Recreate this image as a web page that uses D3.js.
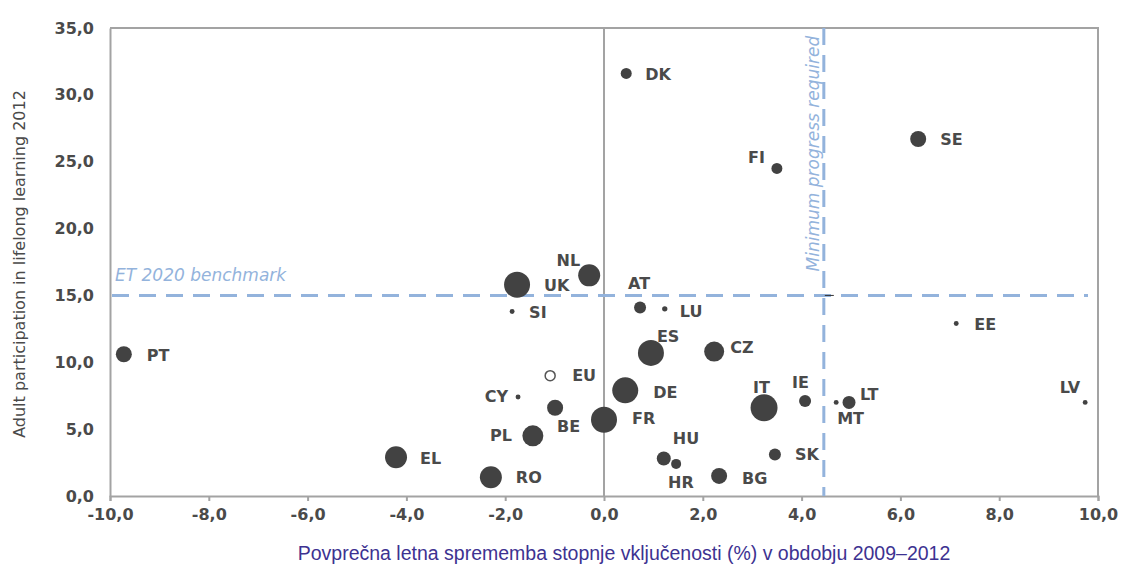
<!DOCTYPE html>
<html>
<head>
<meta charset="utf-8">
<script src="https://cdn.jsdelivr.net/npm/d3@7"></script>
<style>
  body { margin: 0; background: #fff; }
  svg { display: block; }
</style>
</head>
<body>
<div id="chart"></div>
<script>
// countries and values
const countries = ['DK', 'SE', 'FI', 'NL', 'UK', 'AT', 'LU', 'SI', 'ES', 'CZ', 'PT', 'EU', 'DE', 'CY', 'BE',
                   'FR', 'PL', 'EL', 'RO', 'HU', 'HR', 'BG', 'IT', 'IE', 'MT', 'LT', 'SK', 'EE', 'LV'];
const change = [0.45, 6.36, 3.5, -0.3, -1.76, 0.73, 1.23, -1.86, 0.95, 2.23, -9.72, -1.09, 0.43, -1.74, -0.99,
                0.0, -1.44, -4.21, -2.29, 1.21, 1.46, 2.33, 3.24, 4.07, 4.7, 4.96, 3.46, 7.13, 9.74];
const participation = [31.6, 26.7, 24.5, 16.5, 15.8, 14.1, 14.0, 13.8, 10.7, 10.8, 10.6, 9.0, 7.9, 7.4, 6.6,
                       5.7, 4.5, 2.9, 1.4, 2.8, 2.4, 1.5, 6.6, 7.1, 7.0, 7.0, 3.1, 12.9, 7.0];
// bubble weight (relative size of each circle)
const weight = [30, 64, 30, 121, 169, 36, 7, 6, 169, 100, 64, 25, 169, 6, 64,
                169, 110, 121, 121, 49, 25, 64, 182, 36, 6, 42, 36, 6, 6];

const xTicks = [-10, -8, -6, -4, -2, 0, 2, 4, 6, 8, 10];
const yTicks = [0, 5, 10, 15, 20, 25, 30, 35];
const benchmark = 15;
const minProgress = 4.45;

// label placement around each bubble: [dx, dy, anchor]
const labelPos = {
  DK: [19, 1, 'start'], SE: [22, 0, 'start'], FI: [-12, -11, 'end'], NL: [-9, -15, 'end'],
  UK: [27, 1, 'start'], AT: [-12, -24, 'start'], LU: [15, 3, 'start'], SI: [17, 1, 'start'],
  ES: [6, -17, 'start'], CZ: [16, -4, 'start'], PT: [23, 1, 'start'], EU: [22, 0, 'start'],
  DE: [28, 2, 'start'], CY: [-10, -1, 'end'], BE: [2, 19, 'start'], FR: [28, -1, 'start'],
  PL: [-21, 0, 'end'], EL: [24, 1, 'start'], RO: [25, 0, 'start'], HU: [9, -20, 'start'],
  HR: [-8, 18, 'start'], BG: [23, 2, 'start'], IT: [-11, -20, 'start'], IE: [-13, -19, 'start'],
  MT: [1, 16, 'start'], LT: [11, -8, 'start'], SK: [20, 0, 'start'], EE: [18, 1, 'start'],
  LV: [-5, -15, 'end']
};

const points = countries.map((c, i) => ({
  name: c, x: change[i], y: participation[i], w: weight[i]
}));

const width = 1122, height = 570;
const plotLeft = 110, plotRight = 1098, plotTop = 28, plotBottom = 496;

const svg = d3.select('#chart')
              .append('svg')
              .attr('width', width)
              .attr('height', height);

const locale = d3.formatLocale({decimal: ',', thousands: '.', grouping: [3], currency: ['', ''], minus: '-'});
const fmt = locale.format('.1f');

const x = d3.scaleLinear().domain([-10, 10]).range([plotLeft, plotRight]);
const y = d3.scaleLinear().domain([0, 35]).range([plotBottom, plotTop]);
const r = d3.scaleSqrt().domain([0, 196]).range([0, 14]);

const axisColor = '#a3a3a3';
const textColor = '#4a4a4a';
const dashColor = '#93b3dc';
const font = 'DejaVu Sans, Verdana, sans-serif';

// frame: top and right borders
svg.append('path')
   .attr('d', `M${plotLeft},${plotTop}H${plotRight}V${plotBottom}`)
   .attr('fill', 'none')
   .attr('stroke', axisColor)
   .attr('stroke-width', 2);

// zero line
svg.append('line')
   .attr('x1', x(0)).attr('x2', x(0))
   .attr('y1', plotTop).attr('y2', plotBottom)
   .attr('stroke', axisColor)
   .attr('stroke-width', 2);

// x axis
const xAxis = svg.append('g')
   .attr('transform', `translate(0,${plotBottom})`)
   .call(d3.axisBottom(x).tickValues(xTicks).tickFormat(fmt).tickSizeOuter(0).tickSize(5).tickPadding(8));
xAxis.select('.domain').attr('stroke', axisColor).attr('stroke-width', 2);
xAxis.selectAll('.tick line').attr('stroke', axisColor).attr('stroke-width', 2);
xAxis.selectAll('.tick text')
     .attr('fill', textColor)
     .style('font-family', font)
     .style('font-weight', 'bold')
     .style('font-size', '16px');

// y axis
const yAxis = svg.append('g')
   .attr('transform', `translate(${plotLeft},0)`)
   .call(d3.axisLeft(y).tickValues(yTicks).tickFormat(fmt).tickSize(0).tickPadding(16));
yAxis.select('.domain').attr('stroke', axisColor).attr('stroke-width', 2);
yAxis.selectAll('.tick text')
     .attr('fill', textColor)
     .style('font-family', font)
     .style('font-weight', 'bold')
     .style('font-size', '16px');

// reference lines
svg.append('line')
   .attr('x1', x(-10) + 2).attr('x2', x(10) - 10)
   .attr('y1', y(benchmark)).attr('y2', y(benchmark))
   .attr('stroke', dashColor)
   .attr('stroke-width', 3)
   .attr('stroke-dasharray', '17,10');

svg.append('line')
   .attr('x1', x(minProgress)).attr('x2', x(minProgress))
   .attr('y1', plotTop).attr('y2', plotBottom)
   .attr('stroke', dashColor)
   .attr('stroke-width', 3)
   .attr('stroke-dasharray', '17,10');

svg.append('line')
   .attr('x1', x(minProgress) + 1).attr('x2', x(minProgress) + 10)
   .attr('y1', y(benchmark)).attr('y2', y(benchmark))
   .attr('stroke', '#333')
   .attr('stroke-width', 1);

svg.append('text')
   .attr('x', plotLeft + 5)
   .attr('y', y(benchmark) - 14)
   .attr('fill', dashColor)
   .style('font-family', font)
   .style('font-size', '17px')
   .style('font-style', 'italic')
   .text('ET 2020 benchmark');

svg.append('text')
   .attr('transform', `translate(${x(minProgress) - 5},${y(benchmark) - 24}) rotate(-90)`)
   .attr('fill', dashColor)
   .style('font-family', font)
   .style('font-size', '17px')
   .style('font-style', 'italic')
   .text('Minimum progress required');

// bubbles
svg.append('g')
   .selectAll('circle')
   .data(points)
   .join('circle')
     .attr('cx', d => x(d.x))
     .attr('cy', d => y(d.y))
     .attr('r', d => r(d.w))
     .attr('fill', d => d.name === 'EU' ? '#fff' : '#424242')
     .attr('stroke', d => d.name === 'EU' ? '#555' : 'none')
     .attr('stroke-width', 1.5);

// labels
svg.append('g')
   .selectAll('text')
   .data(points)
   .join('text')
     .attr('x', d => x(d.x) + labelPos[d.name][0])
     .attr('y', d => y(d.y) + labelPos[d.name][1])
     .attr('dy', '0.35em')
     .attr('text-anchor', d => labelPos[d.name][2])
     .attr('fill', textColor)
     .style('font-family', font)
     .style('font-weight', 'bold')
     .style('font-size', '16px')
     .text(d => d.name);

// axis titles
svg.append('text')
   .attr('transform', `translate(25,${(plotTop + plotBottom) / 2 + 2}) rotate(-90)`)
   .attr('text-anchor', 'middle')
   .attr('fill', textColor)
   .style('font-family', font)
   .style('font-size', '16px')
   .text('Adult participation in lifelong learning 2012');

svg.append('text')
   .attr('x', 624)
   .attr('y', 560)
   .attr('text-anchor', 'middle')
   .attr('fill', '#3d3291')
   .style('font-family', 'Liberation Sans, Arial, sans-serif')
   .style('font-size', '19.5px')
   .text('Povprečna letna sprememba stopnje vključenosti (%) v obdobju 2009–2012');
</script>
</body>
</html>
